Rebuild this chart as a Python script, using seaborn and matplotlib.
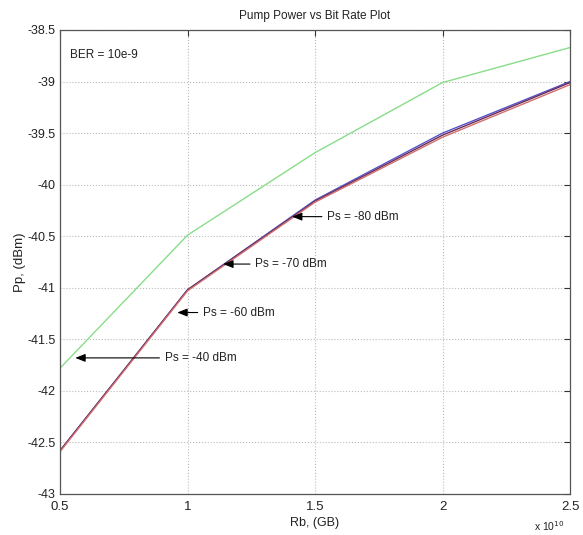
import matplotlib
matplotlib.use("Agg")
import matplotlib.pyplot as plt
import seaborn as sns
import pandas as pd
import numpy as np

# Bit rate (bit/s) and pump power (dBm) for each signal power level
bit_rate = [0.5e10, 1.0e10, 1.5e10, 2.0e10, 2.5e10]
pp_m40 = [-41.78, -40.49, -39.69, -39.01, -38.67]
pp_m60 = [-42.58, -41.02, -40.15, -39.50, -39.00]
pp_m70 = [-42.58, -41.02, -40.16, -39.52, -39.01]
pp_m80 = [-42.59, -41.03, -40.17, -39.54, -39.03]

series_names = ["Ps = -40 dBm", "Ps = -60 dBm", "Ps = -70 dBm", "Ps = -80 dBm"]
series_colors = ["#88dd88", "#5555cc", "#6a2a55", "#d07070"]

# Arrow annotations: (label, arrow tip x, arrow tip y, text x)
ann_labels = ["Ps = -40 dBm", "Ps = -60 dBm", "Ps = -70 dBm", "Ps = -80 dBm"]
ann_tip_x = [0.56e10, 0.96e10, 1.14e10, 1.41e10]
ann_tip_y = [-41.68, -41.24, -40.77, -40.31]
ann_text_x = [0.91e10, 1.06e10, 1.265e10, 1.547e10]

x_ticks = [0.5e10, 1.0e10, 1.5e10, 2.0e10, 2.5e10]
x_tick_labels = ["0.5", "1", "1.5", "2", "2.5"]
y_ticks = [-43, -42.5, -42, -41.5, -41, -40.5, -40, -39.5, -39, -38.5]
y_tick_labels = ["-43", "-42.5", "-42", "-41.5", "-41", "-40.5", "-40", "-39.5", "-39", "-38.5"]

sns.set_theme(style="white")
plt.rcParams["font.family"] = ["Liberation Sans", "DejaVu Sans"]

df = pd.DataFrame({
    "Rb": bit_rate * 4,
    "Pp": pp_m40 + pp_m60 + pp_m70 + pp_m80,
    "series": sum([[n] * len(bit_rate) for n in series_names], []),
})

fig = plt.figure(figsize=(5.83, 5.35), dpi=100)
ax = fig.add_axes([60 / 583, 1 - 494 / 535, 510 / 583, 464 / 535])

sns.lineplot(data=df, x="Rb", y="Pp", hue="series", palette=series_colors,
             hue_order=series_names, legend=False, ax=ax, linewidth=1.0)

ax.set_xlim(0.5e10, 2.5e10)
ax.set_ylim(-43, -38.5)
ax.set_xticks(x_ticks)
ax.set_xticklabels(x_tick_labels)
ax.set_yticks(y_ticks)
ax.set_yticklabels(y_tick_labels)
ax.tick_params(direction="in", length=4, width=0.8, colors="#333333",
               labelcolor="#222222", top=True, right=True)
ax.tick_params(axis="x", pad=5, labelsize=9.5)
ax.tick_params(axis="y", pad=3, labelsize=9)
ax.grid(True, linestyle=":", color="#bbbbbb", linewidth=0.8)
for s in ax.spines.values():
    s.set_color("#555555")
    s.set_linewidth(0.9)

ax.set_title("Pump Power vs Bit Rate Plot", fontsize=8.5, color="#222222", pad=8)
ax.set_xlabel("Rb, (GB)", fontsize=9, color="#222222", labelpad=3)
ax.set_ylabel("Pp, (dBm)", fontsize=9.5, color="#222222")
ax.yaxis.set_label_coords(-0.067, 0.5)

ax.text(0.54e10, -38.74, "BER = 10e-9", fontsize=8.5, color="#222222",
        va="center", ha="left")
ax.text(0.99, -0.055, r"x 10$^{10}$", transform=ax.transAxes, fontsize=7.5,
        color="#222222", ha="right", va="top")

for lbl, tx, ty, sx in zip(ann_labels, ann_tip_x, ann_tip_y, ann_text_x):
    ax.annotate("", xy=(tx, ty), xytext=(sx - 0.02e10, ty),
                arrowprops=dict(arrowstyle="-|>,head_length=0.5,head_width=0.2",
                                color="black", lw=0.8, shrinkA=0, shrinkB=0))
    ax.text(sx, ty, lbl, fontsize=8.5, color="#222222", va="center", ha="left")

fig.savefig("out.png", dpi=100)
